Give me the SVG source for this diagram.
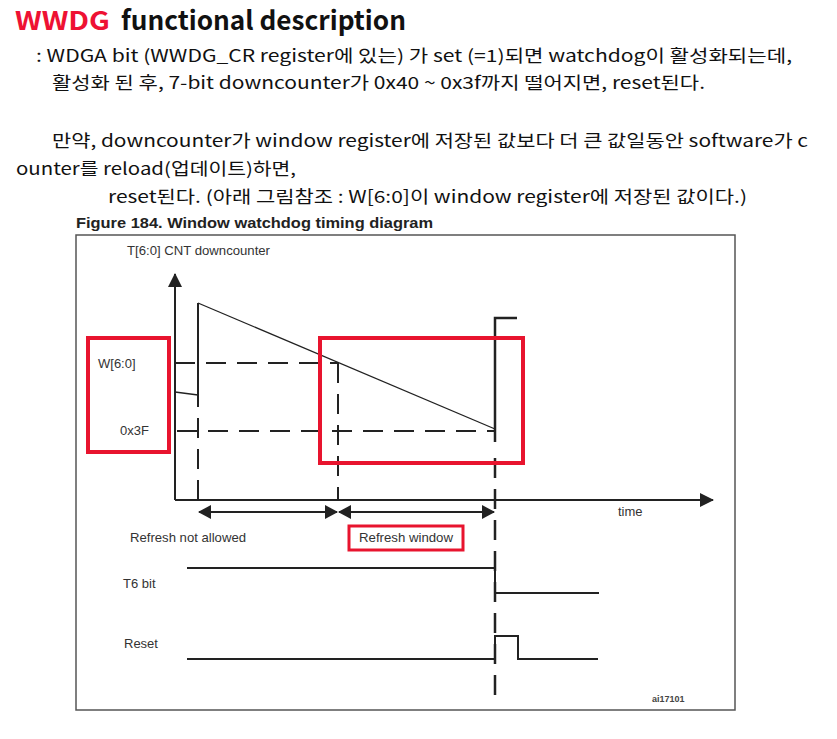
<svg xmlns="http://www.w3.org/2000/svg" width="837" height="739" viewBox="0 0 837 739">
<style>
.kr{font-family:"Noto Sans CJK KR","Noto Sans",sans-serif;font-size:17px;fill:#111}
.ttl{font-family:"Noto Sans CJK KR","Noto Sans",sans-serif;font-size:26px;font-weight:bold}
.ar{font-family:"Liberation Sans",Arial,sans-serif;font-size:13px;fill:#333}
.ln{stroke:#222;fill:none}
.dash{stroke:#222;fill:none;stroke-width:2;stroke-dasharray:20 11}
.red{stroke:#e8142e;fill:none;stroke-width:4}
</style>
<defs>
<marker id="ah" markerWidth="13" markerHeight="14" refX="12" refY="7" orient="auto-start-reverse" markerUnits="userSpaceOnUse">
<path d="M0,0 L13,7 L0,14 z" fill="#222"/>
</marker>
<marker id="ahBig" markerWidth="14" markerHeight="14" refX="13" refY="7" orient="auto" markerUnits="userSpaceOnUse">
<path d="M0,0 L14,7 L0,14 z" fill="#222"/>
</marker>
</defs>
<rect width="837" height="739" fill="#fff"/>

<g id="header">
<text class="ttl" x="15" y="30" fill="#ee1133" textLength="95" lengthAdjust="spacingAndGlyphs">WWDG</text>
<text class="ttl" x="121" y="30" fill="#111" textLength="285" lengthAdjust="spacingAndGlyphs">functional description</text>
<text class="kr" x="36" y="62" textLength="756" lengthAdjust="spacingAndGlyphs">: WDGA bit (WWDG_CR register에 있는) 가 set (=1)되면 watchdog이 활성화되는데,</text>
<text class="kr" x="52" y="89" textLength="653" lengthAdjust="spacingAndGlyphs">활성화 된 후, 7-bit downcounter가 0x40 ~ 0x3f까지 떨어지면, reset된다.</text>
<text class="kr" x="52" y="147" textLength="756" lengthAdjust="spacingAndGlyphs">만약, downcounter가 window register에 저장된 값보다 더 큰 값일동안 software가 c</text>
<text class="kr" x="16" y="175" textLength="280" lengthAdjust="spacingAndGlyphs">ounter를 reload(업데이트)하면,</text>
<text class="kr" x="108" y="203" textLength="639" lengthAdjust="spacingAndGlyphs">reset된다. (아래 그림참조 : W[6:0]이 window register에 저장된 값이다.)</text>
<text x="76" y="228" font-family="Liberation Sans,Arial,sans-serif" font-size="14" font-weight="bold" fill="#222" textLength="357" lengthAdjust="spacingAndGlyphs">Figure 184. Window watchdog timing diagram</text>
</g>

<g id="frame">
<rect x="76" y="235" width="659" height="475" fill="none" stroke="#555" stroke-width="1.5"/>
</g>

<g id="connectors">
<line class="ln" x1="175" y1="500" x2="175" y2="274" stroke-width="2" marker-end="url(#ahBig)"/>
<line class="ln" x1="175" y1="500" x2="713" y2="500" stroke-width="2" marker-end="url(#ahBig)"/>
<polyline class="ln" points="175,392 198,395" stroke-width="1.3"/>
<line class="ln" x1="198" y1="303" x2="198" y2="407" stroke-width="2"/>
<line class="ln" x1="198" y1="303" x2="495" y2="429" stroke-width="1.3"/>
<line class="dash" x1="175" y1="363" x2="338" y2="363"/>
<line class="dash" x1="175" y1="431" x2="495" y2="431" stroke-dashoffset="-2"/>
<line class="dash" x1="198" y1="418" x2="198" y2="500"/>
<line class="dash" x1="338" y1="363" x2="338" y2="500"/>
<polyline class="ln" points="517,318 495,318 495,442" stroke-width="2.5"/>
<line x1="495" y1="458" x2="495" y2="700" stroke="#222" stroke-width="2.5" stroke-dasharray="20 11"/>
<line class="ln" x1="198" y1="490" x2="198" y2="500" stroke-width="1.5"/>
<line class="ln" x1="338" y1="490" x2="338" y2="500" stroke-width="1.5"/>
<line class="ln" x1="199" y1="512" x2="337" y2="512" stroke-width="2" marker-start="url(#ah)" marker-end="url(#ah)"/>
<line class="ln" x1="339" y1="512" x2="494" y2="512" stroke-width="2" marker-start="url(#ah)" marker-end="url(#ah)"/>
<polyline class="ln" points="187,568 495,568 495,593 599,593" stroke-width="2"/>
<polyline class="ln" points="187,659 495,659 495,636 518,636 518,659 598,659" stroke-width="2"/>
</g>

<g id="labels">
<text class="ar" x="127" y="255" textLength="143" lengthAdjust="spacingAndGlyphs">T[6:0] CNT downcounter</text>
<text class="ar" x="98" y="368">W[6:0]</text>
<text class="ar" x="120" y="435">0x3F</text>
<text class="ar" x="618" y="516">time</text>
<text class="ar" x="130" y="542" textLength="116" lengthAdjust="spacingAndGlyphs">Refresh not allowed</text>
<text class="ar" x="359" y="542" textLength="94" lengthAdjust="spacingAndGlyphs">Refresh window</text>
<text class="ar" x="123" y="588">T6 bit</text>
<text class="ar" x="124" y="648">Reset</text>
<text x="652" y="702" font-family="Liberation Sans,Arial,sans-serif" font-size="9" font-weight="bold" fill="#444">ai17101</text>
</g>

<g id="highlights">
<rect class="red" x="88" y="338" width="81" height="114"/>
<rect class="red" x="320" y="338" width="203" height="125"/>
<rect x="349" y="526" width="114" height="24" fill="none" stroke="#e8142e" stroke-width="3"/>
</g>
</svg>
